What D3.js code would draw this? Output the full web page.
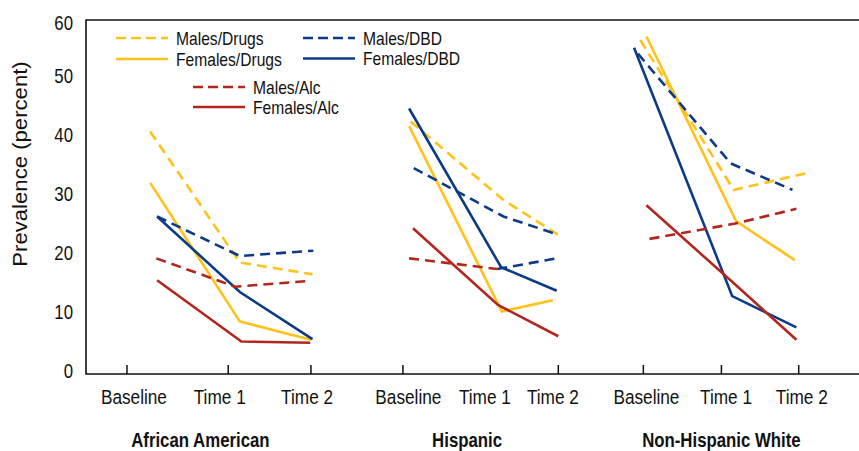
<!DOCTYPE html>
<html>
<head>
<meta charset="utf-8">
<script src="https://cdn.jsdelivr.net/npm/d3@7"></script>
<style>
  body { margin: 0; background: #fff; }
  text { font-family: "Liberation Sans", Arial, sans-serif; fill: #111; }
</style>
</head>
<body>
<svg id="chart"></svg>
<script>
// groups and time points
const groups = ['African American', 'Hispanic', 'Non-Hispanic White'];
const times = ['Baseline', 'Time 1', 'Time 2'];
const yTicks = [0, 10, 20, 30, 40, 50, 60];

// x positions on a 0-100 horizontal axis (ticks are not evenly spaced in the original)
const xTicks = [5.3, 18.4, 29.1, 41.0, 52.3, 61.1, 72.1, 82.2, 92.2];
const xTickLabelPos = [6.2, 17.3, 28.6, 41.7, 51.6, 60.4, 72.5, 82.8, 92.6];
const groupLabelPos = [14.8, 49.3, 82.2];

// prevalence (%) : 3 groups x 3 time points, with their x positions
const malesDrugs   = [41.1, 18.9, 16.9, 42.8, 29.5, 23.6, 56.6, 31.2, 34.1];
const malesDrugsX  = [8.3, 19.9, 29.3, 42.0, 54.0, 61.1, 71.7, 83.8, 93.4];
const femalesDrugs = [32.4, 8.9, 5.8, 42.0, 10.6, 12.5, 57.2, 25.9, 19.3];
const femalesDrugsX = [8.3, 19.9, 29.1, 41.8, 53.8, 60.4, 72.5, 84.1, 91.7];
const malesDBD     = [26.7, 20.0, 20.9, 34.9, 26.7, 23.6, 54.3, 35.7, 31.2];
const malesDBDX    = [9.2, 19.9, 29.4, 42.4, 54.0, 61.1, 71.4, 83.4, 91.4];
const femalesDBD   = [26.7, 13.9, 5.9, 45.0, 18.1, 14.1, 55.3, 13.2, 7.9];
const femalesDBDX  = [9.2, 19.9, 29.3, 41.8, 53.7, 60.9, 70.9, 83.6, 91.9];
const malesAlc     = [19.6, 14.8, 15.8, 19.6, 17.8, 19.6, 22.9, 25.5, 28.0];
const malesAlcX    = [9.1, 19.3, 29.0, 41.8, 53.2, 60.9, 72.9, 84.0, 91.9];
const femalesAlc   = [15.9, 5.5, 5.3, 24.7, 11.7, 6.4, 28.6, 15.5, 5.8];
const femalesAlcX  = [9.2, 20.1, 29.0, 42.3, 53.3, 61.1, 72.5, 83.7, 91.9];

const colors = { drugs: '#FFC21A', dbd: '#0C3B86', alc: '#B3261E' };

const series = [
    { name: 'Males/Drugs', values: malesDrugs, xs: malesDrugsX, color: colors.drugs, dashed: true },
    { name: 'Females/Drugs', values: femalesDrugs, xs: femalesDrugsX, color: colors.drugs, dashed: false },
    { name: 'Males/DBD', values: malesDBD, xs: malesDBDX, color: colors.dbd, dashed: true },
    { name: 'Females/DBD', values: femalesDBD, xs: femalesDBDX, color: colors.dbd, dashed: false },
    { name: 'Males/Alc', values: malesAlc, xs: malesAlcX, color: colors.alc, dashed: true },
    { name: 'Females/Alc', values: femalesAlc, xs: femalesAlcX, color: colors.alc, dashed: false }
];

// in the original, the Hispanic Males/Alc Time 1 -> Time 2 piece is drawn in navy
const segmentColorOverride = [{ series: 'Males/Alc', group: 1, segment: 1, color: colors.dbd }];

const width = 859, height = 451;
const margin = { top: 20, left: 86 };
const squeeze = 0.84; // the original font is a condensed face

const svg = d3.select('#chart')
    .attr('width', width)
    .attr('height', height);

const x = d3.scaleLinear().domain([0, 100]).range([margin.left, width]);
const y = d3.scaleLinear().domain([0, 60]).range([374, margin.top]);

// condensed text helper
function label(parent, tx, ty, str, size, anchor, weight) {
    return parent.append('text')
        .attr('transform', `translate(${tx},${ty}) scale(${squeeze},1)`)
        .attr('text-anchor', anchor || 'start')
        .style('font-size', size + 'px')
        .style('font-weight', weight || 'normal')
        .text(str);
}

// frame (top, left, bottom)
svg.append('path')
    .attr('d', `M${width + 5},${y(60)}H${x(0)}V${y(0)}H${width + 5}`)
    .attr('fill', 'none')
    .attr('stroke', '#111')
    .attr('stroke-width', 1.6);

// x ticks (pointing up into the plot)
svg.selectAll('.xtick')
    .data(xTicks)
    .join('line')
    .attr('class', 'xtick')
    .attr('x1', d => x(d)).attr('x2', d => x(d))
    .attr('y1', y(0)).attr('y2', y(0) - 9)
    .attr('stroke', '#111')
    .attr('stroke-width', 1.5);

// x tick labels
const tickLabels = groups.flatMap(() => times);
tickLabels.forEach((t, i) => label(svg, x(xTickLabelPos[i]), 404, t, 20.5, 'middle'));

// group labels
groups.forEach((g, i) => label(svg, x(groupLabelPos[i]), 447, g, 20, 'middle', 'bold'));

// y tick labels
yTicks.forEach(v => label(svg, 73, Math.max(y(v) - 3.5, 23) + 7, v, 20, 'end'));

// y axis title
svg.append('text')
    .attr('transform', `translate(27, 164) rotate(-90) scale(1.08, 1)`)
    .attr('text-anchor', 'middle')
    .style('font-size', '20.5px')
    .text('Prevalence (percent)');

// lines
const line = d3.line().x(d => x(d.x)).y(d => y(d.v));
const plot = svg.append('g');

series.forEach(s => {
    groups.forEach((g, gi) => {
        const pts = [0, 1, 2].map(t => ({ x: s.xs[gi * 3 + t], v: s.values[gi * 3 + t] }));
        // split into runs of equal colour
        const segColor = k => {
            const o = segmentColorOverride.find(o => o.series === s.name && o.group === gi && o.segment === k);
            return o ? o.color : s.color;
        };
        let runs = [];
        for (let k = 0; k < pts.length - 1; k++) {
            const c = segColor(k);
            if (runs.length && runs[runs.length - 1].color === c) {
                runs[runs.length - 1].pts.push(pts[k + 1]);
            } else {
                runs.push({ color: c, pts: [pts[k], pts[k + 1]] });
            }
        }
        runs.forEach(r => {
            plot.append('path')
                .attr('d', line(r.pts))
                .attr('fill', 'none')
                .attr('stroke', r.color)
                .attr('stroke-width', 2.6)
                .attr('stroke-dasharray', s.dashed ? '10,6' : null);
        });
    });
});

// legend
const legendPos = [
    { lx: 116, ly: 38 }, { lx: 116, ly: 59 },
    { lx: 303, ly: 38 }, { lx: 303, ly: 58.5 },
    { lx: 193, ly: 87 }, { lx: 193, ly: 107 }
];
const legend = svg.append('g').attr('class', 'legend');
series.forEach((s, i) => {
    const p = legendPos[i];
    legend.append('line')
        .attr('x1', p.lx).attr('x2', p.lx + 52)
        .attr('y1', p.ly).attr('y2', p.ly)
        .attr('stroke', s.color)
        .attr('stroke-width', 2.6)
        .attr('stroke-dasharray', s.dashed ? '10,5' : null);
    label(legend, p.lx + 60, p.ly + 6.5, s.name, 18.6);
});
</script>
</body>
</html>
